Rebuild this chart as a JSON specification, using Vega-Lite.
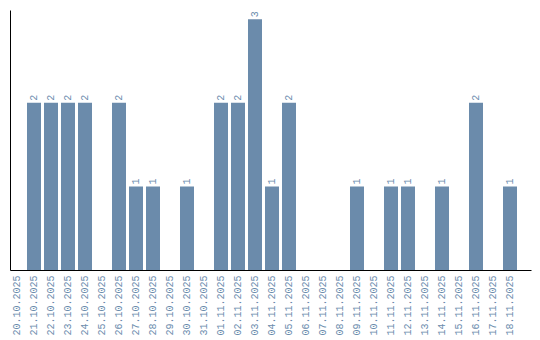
{
  "$schema": "https://vega.github.io/schema/vega-lite/v6.json",
  "width": 521,
  "height": 260,
  "autosize": {"type": "none"},
  "padding": {"left": 10, "top": 10, "right": 9, "bottom": 70},
  "background": "white",
  "config": {"view": {"stroke": null}, "font": "Liberation Mono"},
  "data": {"values": [
    {"date": "20.10.2025", "count": 0},
    {"date": "21.10.2025", "count": 2},
    {"date": "22.10.2025", "count": 2},
    {"date": "23.10.2025", "count": 2},
    {"date": "24.10.2025", "count": 2},
    {"date": "25.10.2025", "count": 0},
    {"date": "26.10.2025", "count": 2},
    {"date": "27.10.2025", "count": 1},
    {"date": "28.10.2025", "count": 1},
    {"date": "29.10.2025", "count": 0},
    {"date": "30.10.2025", "count": 1},
    {"date": "31.10.2025", "count": 0},
    {"date": "01.11.2025", "count": 2},
    {"date": "02.11.2025", "count": 2},
    {"date": "03.11.2025", "count": 3},
    {"date": "04.11.2025", "count": 1},
    {"date": "05.11.2025", "count": 2},
    {"date": "06.11.2025", "count": 0},
    {"date": "07.11.2025", "count": 0},
    {"date": "08.11.2025", "count": 0},
    {"date": "09.11.2025", "count": 1},
    {"date": "10.11.2025", "count": 0},
    {"date": "11.11.2025", "count": 1},
    {"date": "12.11.2025", "count": 1},
    {"date": "13.11.2025", "count": 0},
    {"date": "14.11.2025", "count": 1},
    {"date": "15.11.2025", "count": 0},
    {"date": "16.11.2025", "count": 2},
    {"date": "17.11.2025", "count": 0},
    {"date": "18.11.2025", "count": 1}
  ]},
  "encoding": {
    "x": {
      "field": "date", "type": "nominal", "sort": null,
      "scale": {"paddingInner": 0.1765, "paddingOuter": 0.4118, "align": 0},
      "axis": {
        "title": null, "labelAngle": -90, "ticks": false, "domainColor": "black",
        "labelColor": "#6b8cad", "labelFontSize": 10, "labelFont": "Liberation Mono",
        "labelPadding": 5
      }
    },
    "y": {
      "field": "count", "type": "quantitative",
      "scale": {"domain": [0, 3.11], "nice": false},
      "axis": {"title": null, "labels": false, "ticks": false, "grid": false, "domainColor": "black"}
    }
  },
  "layer": [
    {"mark": {"type": "bar", "color": "#6b8bab"}},
    {
      "transform": [{"filter": "datum.count > 0"}],
      "mark": {"type": "text", "angle": -90, "align": "left", "baseline": "middle", "dx": 2, "fontSize": 10, "font": "Liberation Mono", "color": "#6b8cad"},
      "encoding": {"text": {"field": "count", "type": "quantitative"}}
    }
  ]
}
